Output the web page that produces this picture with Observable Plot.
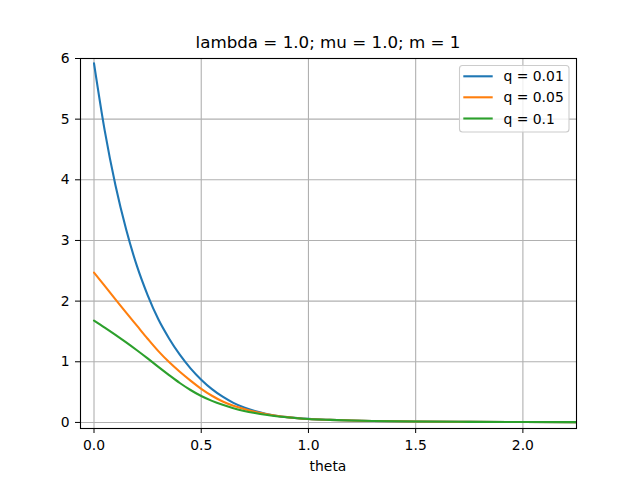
<!DOCTYPE html>
<html>
<head>
<meta charset="utf-8">
<script src="https://cdn.jsdelivr.net/npm/d3@7"></script>
<script src="https://cdn.jsdelivr.net/npm/@observablehq/plot@0.6"></script>
<style>
  html, body { margin: 0; padding: 0; background: #fff; }
  svg { display: block; }
</style>
</head>
<body>
<div id="chart"></div>
<script>
const title = "lambda = 1.0; mu = 1.0; m = 1";
const xLabel = "theta";
const seriesLabels = ["q = 0.01", "q = 0.05", "q = 0.1"];
const seriesColors = ["#1f77b4", "#ff7f0e", "#2ca02c"];
const theta = [0, 0.05, 0.1, 0.15, 0.2, 0.25, 0.3, 0.35, 0.4, 0.45, 0.5, 0.55, 0.6, 0.65, 0.7, 0.75, 0.8, 0.85, 0.9, 0.95, 1.0, 1.1, 1.2, 1.3, 1.4, 1.5, 1.75, 2.0, 2.25];
const q001 = [5.92, 4.81, 3.91, 3.18, 2.58, 2.10, 1.70, 1.385, 1.117, 0.892, 0.705, 0.549, 0.424, 0.323, 0.246, 0.187, 0.143, 0.111, 0.088, 0.071, 0.058, 0.042, 0.031, 0.024, 0.019, 0.015, 0.010, 0.007, 0.005];
const q005 = [2.47, 2.25, 2.03, 1.81, 1.595, 1.38, 1.175, 0.995, 0.835, 0.69, 0.555, 0.44, 0.345, 0.275, 0.22, 0.175, 0.14, 0.11, 0.087, 0.070, 0.057, 0.042, 0.031, 0.024, 0.019, 0.015, 0.010, 0.007, 0.005];
const q01  = [1.68, 1.565, 1.445, 1.32, 1.19, 1.055, 0.915, 0.78, 0.65, 0.535, 0.435, 0.355, 0.29, 0.235, 0.19, 0.155, 0.126, 0.103, 0.085, 0.070, 0.057, 0.042, 0.031, 0.024, 0.019, 0.015, 0.010, 0.007, 0.005];
const xTicks = [0, 0.5, 1.0, 1.5, 2.0];
const yTicks = [0, 1, 2, 3, 4, 5, 6];

const seriesValues = [q001, q005, q01];
const rows = [];
seriesValues.forEach((vals, i) => {
  vals.forEach((v, j) => rows.push({theta: theta[j], value: v, q: seriesLabels[i]}));
});

const W = 640, H = 480;
const mL = 80, mR = 64, mT = 58, mB = 52;
const font = "DejaVu Sans, Liberation Sans, sans-serif";

const plot = Plot.plot({
  width: W,
  height: H,
  marginLeft: mL,
  marginRight: mR,
  marginTop: mT,
  marginBottom: mB,
  style: {fontFamily: font, fontSize: "13.9px", color: "black", background: "white"},
  x: {domain: [-0.063, 2.25], label: null},
  y: {domain: [-0.1, 6], label: null},
  color: {domain: seriesLabels, range: seriesColors},
  marks: [
    Plot.gridX(xTicks, {stroke: "#b0b0b0", strokeOpacity: 1, strokeWidth: 1.1}),
    Plot.gridY(yTicks, {stroke: "#b0b0b0", strokeOpacity: 1, strokeWidth: 1.1}),
    Plot.line(rows, {x: "theta", y: "value", stroke: "q", z: "q", curve: "monotone-x", strokeWidth: 2.1, clip: true}),
    Plot.frame({stroke: "black", strokeWidth: 1.1}),
    Plot.axisX({ticks: xTicks, tickFormat: d => d.toFixed(1), tickSize: 5, tickPadding: 7, label: null, fontSize: 13.9, stroke: "black", fill: "black"}),
    Plot.axisY({ticks: yTicks, tickFormat: d => String(d), tickSize: 5, tickPadding: 6, label: null, fontSize: 13.9, stroke: "black", fill: "black"})
  ]
});

document.getElementById("chart").appendChild(plot);

const svg = d3.select(plot);
const cx = mL + (W - mL - mR) / 2;

svg.append("text")
  .attr("x", cx).attr("y", 48)
  .attr("text-anchor", "middle")
  .attr("font-family", font).attr("font-size", "16.7px").attr("fill", "black")
  .text(title);

svg.append("text")
  .attr("x", cx).attr("y", 471)
  .attr("text-anchor", "middle")
  .attr("font-family", font).attr("font-size", "13.9px").attr("fill", "black")
  .text(xLabel);

// legend
const lg = svg.append("g");
lg.append("rect")
  .attr("x", 459.5).attr("y", 65.5).attr("width", 109.5).attr("height", 66.5)
  .attr("rx", 3).attr("ry", 3)
  .attr("fill", "white").attr("fill-opacity", 0.8)
  .attr("stroke", "#cccccc").attr("stroke-width", 1.1);
const rowY = [76.3, 97.3, 118.5];
seriesLabels.forEach((lab, i) => {
  lg.append("line")
    .attr("x1", 463.3).attr("x2", 492.7)
    .attr("y1", rowY[i]).attr("y2", rowY[i])
    .attr("stroke", seriesColors[i]).attr("stroke-width", 2.1);
  lg.append("text")
    .attr("x", 503.5).attr("y", rowY[i] + 5)
    .attr("text-anchor", "start")
    .attr("font-family", font).attr("font-size", "13.9px").attr("fill", "black")
    .text(lab);
});
</script>
</body>
</html>
